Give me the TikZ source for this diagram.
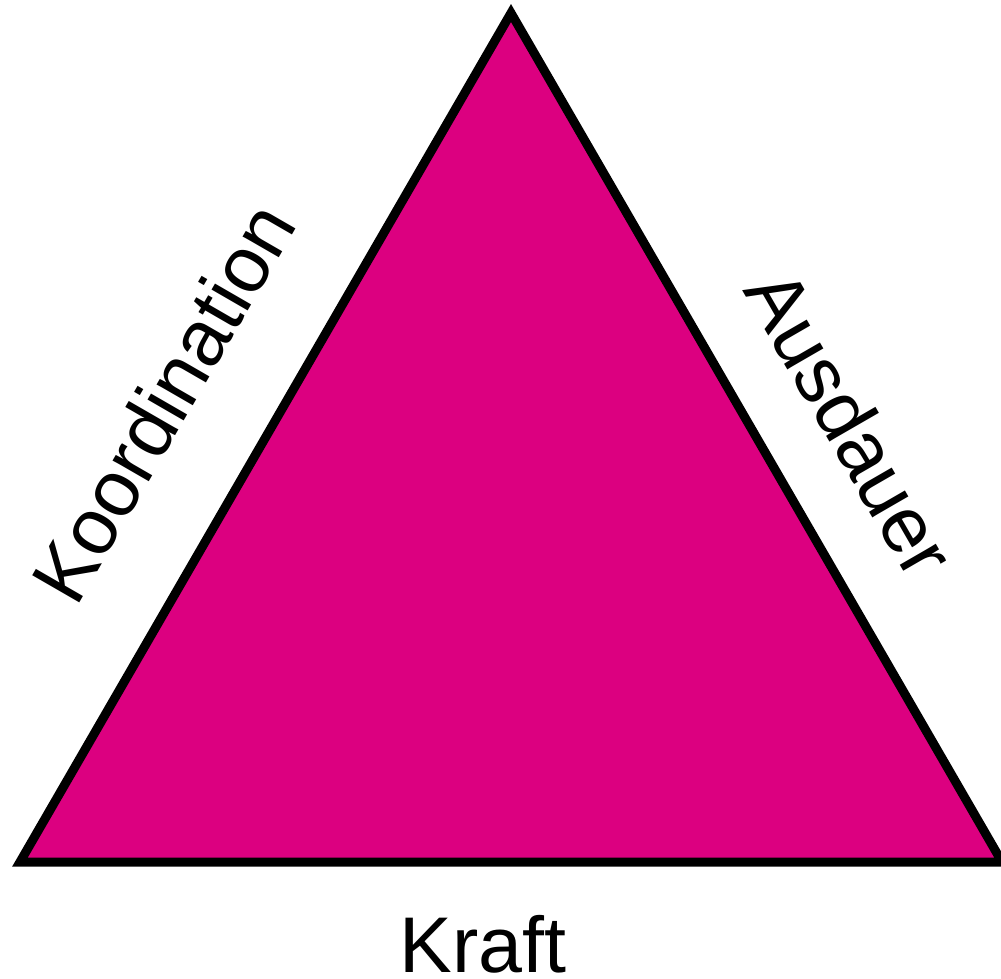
\documentclass[tikz,border=0pt]{standalone}
\usepackage{fontspec}
\setmainfont{Liberation Sans}
\definecolor{tri}{RGB}{220,0,128}
\tikzset{lbl/.style={font=\fontsize{79}{79}\selectfont, inner sep=0pt}}
\begin{document}
\begin{tikzpicture}[x=1pt,y=-1pt]
\useasboundingbox (0,0) rectangle (1001,979);
\coordinate (T) at (511,13);
\coordinate (L) at (20,862);
\coordinate (R) at (1002,862);
\draw[line width=9pt, fill=tri, line join=miter] (T) -- (L) -- (R) -- cycle;
\node[lbl] (kraft) at (483,944) {Kraft};
\node[lbl, rotate=60] (koord) at (163,402) {Koordination};
\node[lbl, rotate=-60] (aus) at (851,423) {Ausdauer};
\end{tikzpicture}
\end{document}
